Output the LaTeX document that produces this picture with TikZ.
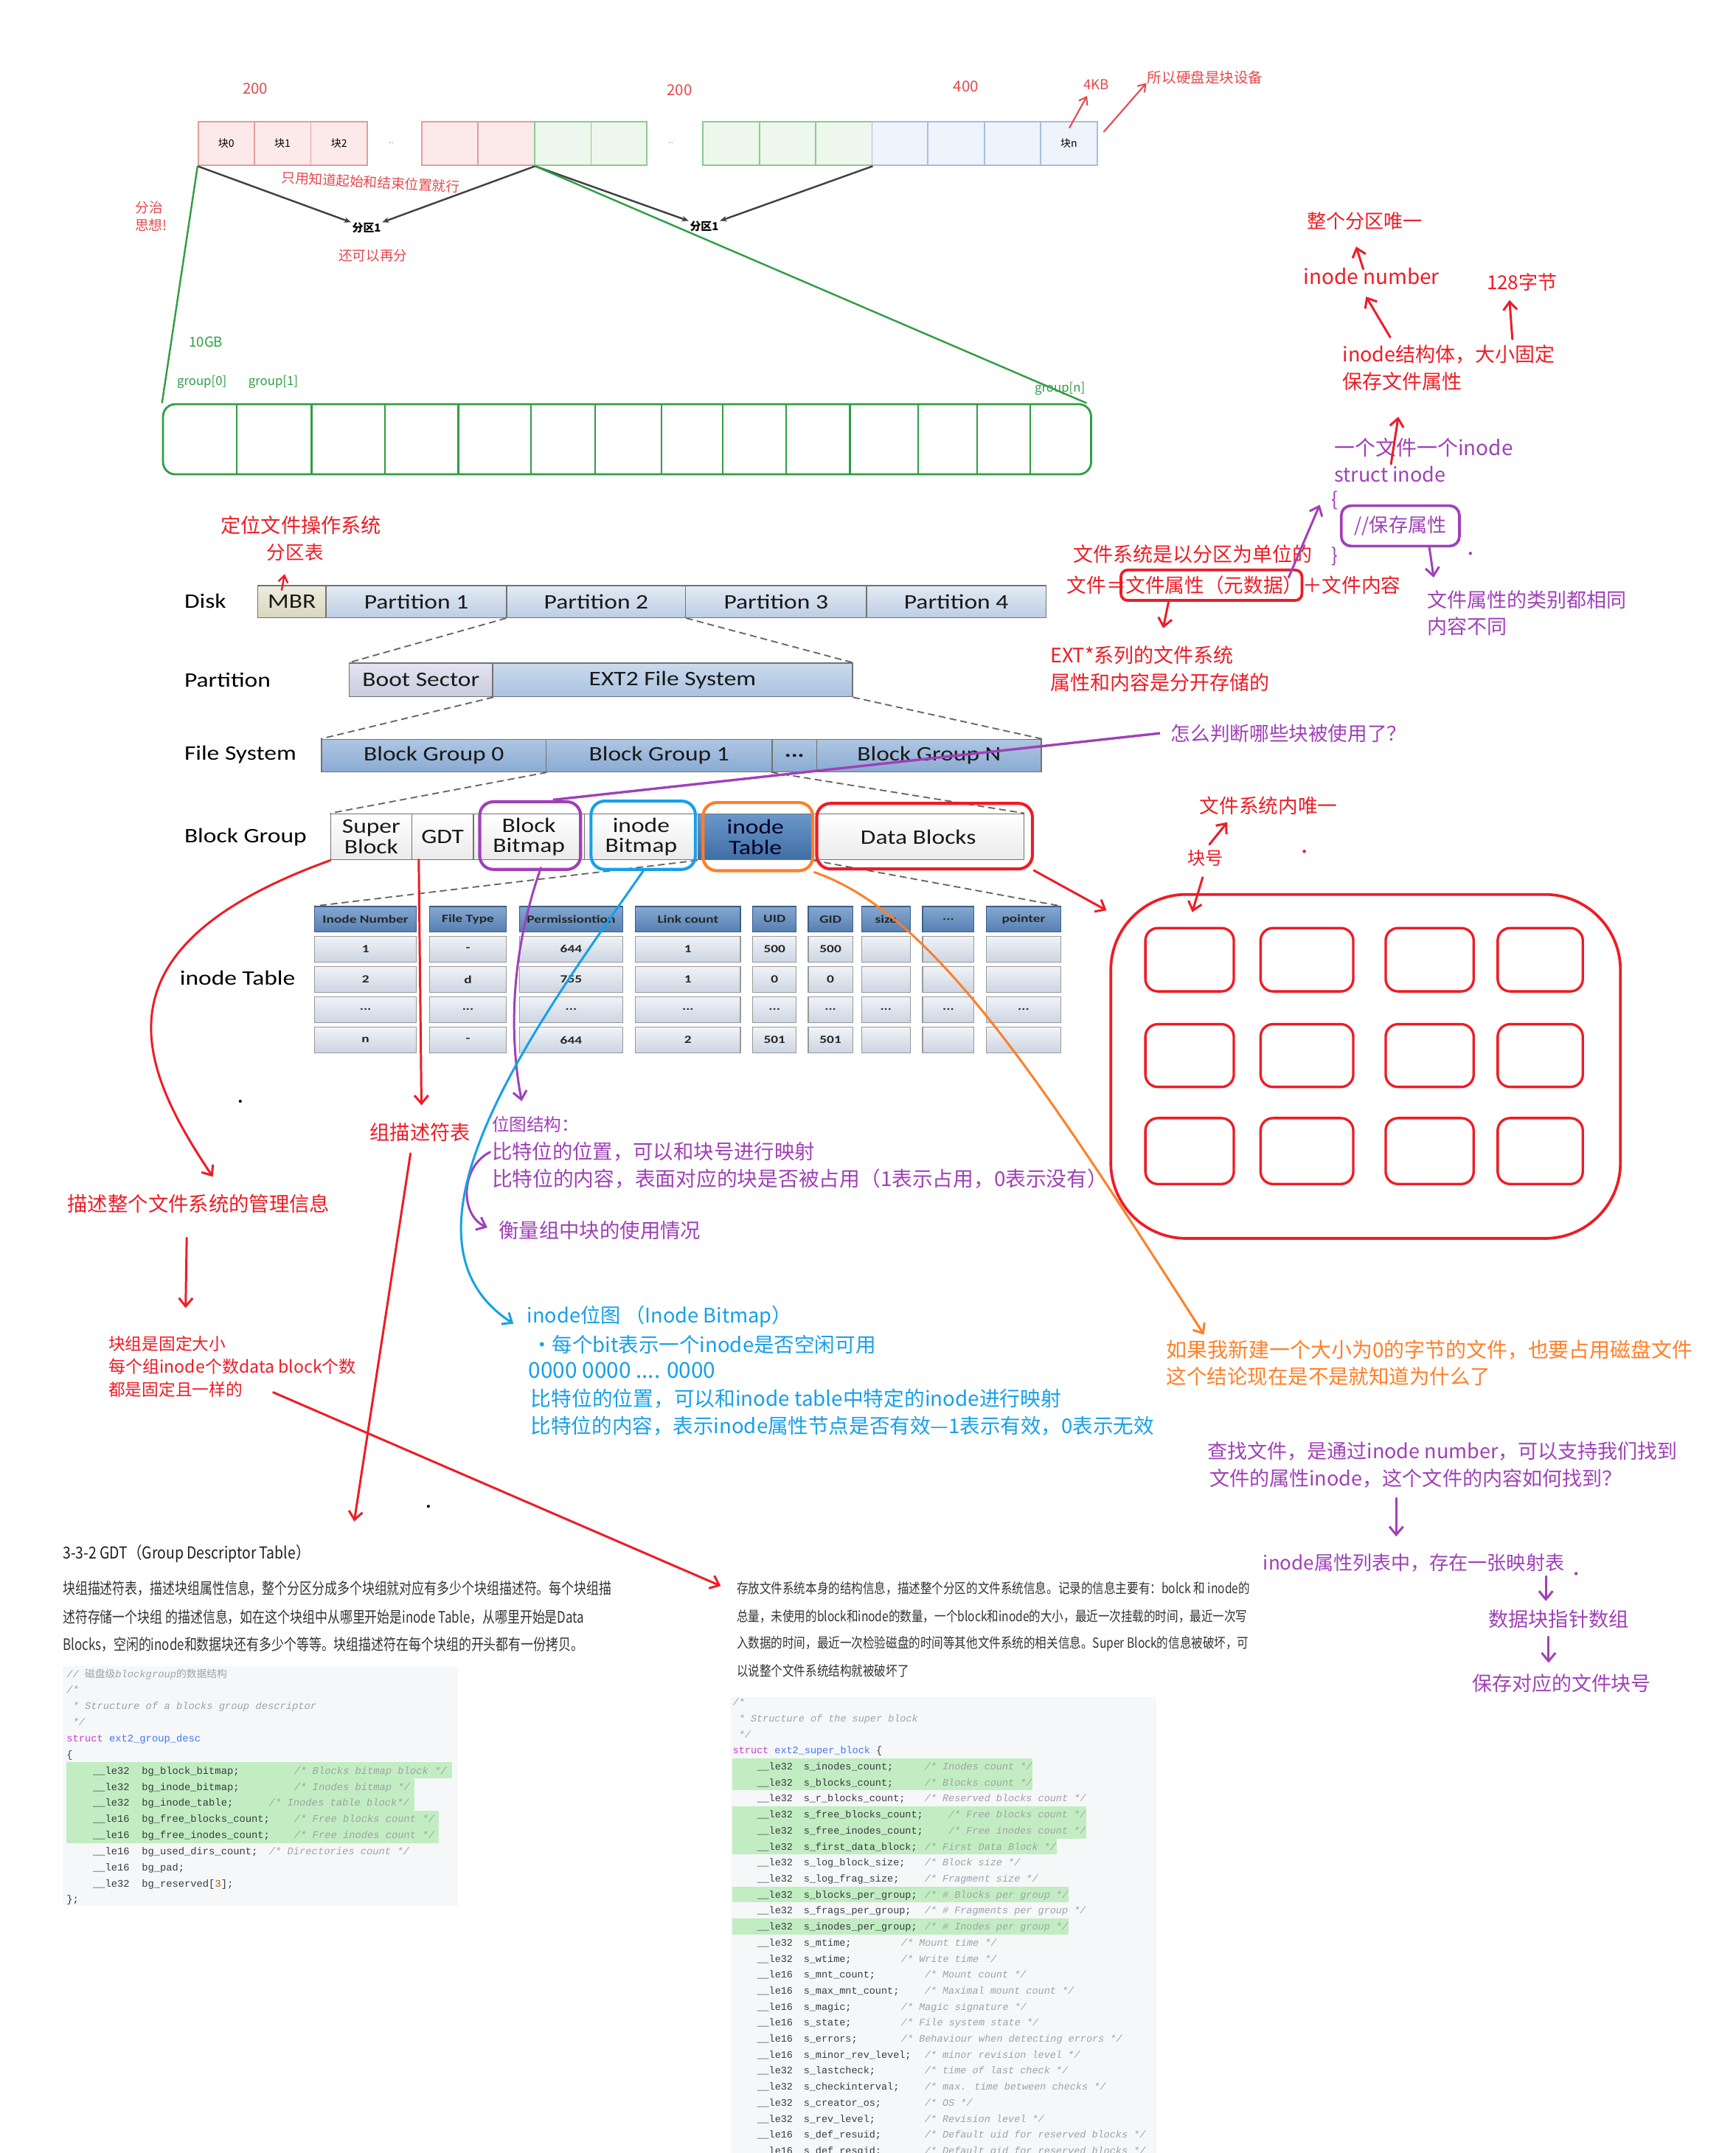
\documentclass[tikz,border=0pt]{standalone}
\usepackage{fontspec}
\usepackage{graphicx}
\usetikzlibrary{arrows.meta}
\setmainfont{Carlito}
\newfontfamily\cjk{Noto Sans CJK SC}
\newfontfamily\codef{Liberation Mono}
\newcommand\fsz[1]{\fontsize{#1}{#1}\selectfont}
\newcommand\sx[2]{\scalebox{#1}[1]{#2}}
\newcommand\tdots{...}
\definecolor{hred}{HTML}{EE1C25}
\definecolor{lred}{HTML}{E5484D}
\definecolor{hpur}{HTML}{A040B8}
\definecolor{hblue}{HTML}{16A0E8}
\definecolor{horg}{HTML}{FF7F27}
\definecolor{hgrn}{HTML}{2F9E44}
\definecolor{codebg}{HTML}{F6F7F9}
\definecolor{codehl}{HTML}{C2EDC2}
\definecolor{codetx}{HTML}{383A42}
\definecolor{codecm}{HTML}{A0A1A7}
\definecolor{codekw}{HTML}{C33FC9}
\definecolor{codeid}{HTML}{4078F2}
\definecolor{codenum}{HTML}{986801}
\definecolor{paratx}{HTML}{333333}
\definecolor{rf}{HTML}{FCEAEA}\definecolor{rd}{HTML}{E59C9C}
\definecolor{gf}{HTML}{EDF7EC}\definecolor{gd}{HTML}{8CCB8C}
\definecolor{bf}{HTML}{EEF3FC}\definecolor{bd}{HTML}{A4BEE4}
\definecolor{mbrt}{HTML}{EEEDE0}\definecolor{mbrb}{HTML}{D9D7BE}
\definecolor{ptt}{HTML}{E3EBF5}\definecolor{ptb}{HTML}{BCCDE3}
\definecolor{bst}{HTML}{E4E4F0}\definecolor{bsb}{HTML}{C9CADF}
\definecolor{ext}{HTML}{CBDBEE}\definecolor{exb}{HTML}{A9C1DF}
\definecolor{bgt}{HTML}{AEC6E2}\definecolor{bgb}{HTML}{8AABD2}
\definecolor{wt}{HTML}{FFFFFF}\definecolor{wb}{HTML}{EBEBEB}
\definecolor{itt}{HTML}{6B97C9}\definecolor{itb}{HTML}{3F6EA6}
\definecolor{hdt}{HTML}{86A8D0}\definecolor{hdb}{HTML}{5580B4}\definecolor{hdd}{HTML}{3D5E86}
\definecolor{cet}{HTML}{F0F3F8}\definecolor{ceb}{HTML}{CCD5E2}
\tikzset{
  txt/.style={inner sep=0pt, outer sep=0pt},
  hand/.style={txt, font=\cjk\fsz{#1}},
  arr/.style={-{Straight Barb[length=6pt,width=10pt]}, line width=1.6pt, line cap=round, line join=round},
  tharr/.style={-{Straight Barb[length=5pt,width=7pt]}, line width=1.1pt, line cap=round},
  blkarr/.style={draw=black!75, line width=1.3pt, -{Stealth[length=5pt,width=4pt]}, shorten >=1pt},
  pbox/.style={draw=black!55, line width=0.8pt, inner sep=0pt, anchor=north west, font=\fsz{15}, text=black!90, align=center},
  dline/.style={draw=black!60, dash pattern=on 5pt off 3pt, line width=1pt},
  hlbox/.style={draw=#1, line width=2.2pt, rounded corners=10pt, inner sep=0pt, anchor=north west},
  thead/.style={draw=hdd, top color=hdt, bottom color=hdb, line width=0.6pt, minimum height=18.4pt, inner sep=0pt, font=\bfseries\fsz{8}, text=black!85},
  tcell/.style={draw=black!40, top color=cet, bottom color=ceb, line width=0.6pt, minimum height=18.6pt, inner sep=0pt, font=\bfseries\fsz{8}, text=black!85},
  code/.style={txt, font=\codef\fsz{7.4}, text=codetx},
  cmt/.style={txt, font=\codef\itshape\fsz{7.4}, text=codecm},
  scode/.style={txt, font=\codef\fsz{7.25}, text=codetx},
  scmt/.style={txt, font=\codef\itshape\fsz{7.25}, text=codecm},
  para/.style={txt, font=\cjk\fsz{11.5}, text=paratx, anchor=west},
  spara/.style={txt, font=\cjk\fsz{10.2}, text=paratx, anchor=west},
}
\newcommand\gdtline[5]{%
  \pgfmathsetmacro\yy{1221.6+(#1-1)*11.73}%
  \node[code, anchor=base west] (gt#1) at (67.7,\yy) {\_\_le#2};%
  \node[code, anchor=base west] (gn#1) at (103.3,\yy) {\detokenize{#3}};%
  \node[cmt, anchor=base west] (gc#1) at (#4,\yy) {#5};%
}
\newcommand\sbline[5]{%
  \pgfmathsetmacro\yy{1242.3+(#1-1)*11.66}%
  \node[scode, anchor=base west] (st#1) at (551.4,\yy) {\_\_le#2};%
  \node[scode, anchor=base west] (sn#1) at (585.4,\yy) {\detokenize{#3}};%
  \node[scmt, anchor=base west] (sc#1) at (#4,\yy) {#5};%
}
\begin{document}
\begin{tikzpicture}[x=1pt,y=-1pt]
\useasboundingbox (0,0) rectangle (1264,1568);
\clip (0,0) rectangle (1264,1568);
\fill[white] (0,0) rectangle (1264,1568);

% ================= top block strip
\foreach \xa/\xb/\cf/\cd [count=\i] in {143.9/184.6/rf/rd,184.6/225.9/rf/rd,225.9/267/rf/rd,306.8/347.5/rf/rd,347.5/388.8/rf/rd,388.8/430/gf/gd,430/470.6/gf/gd,511.3/552.7/gf/gd,552.7/593.4/gf/gd,593.4/634.7/gf/gd,634.7/675.4/bf/bd,675.4/716.7/bf/bd,716.7/757.4/bf/bd,757.4/798.7/bf/bd}
  {\node[draw=\cd, fill=\cf, line width=1pt, inner sep=0pt, anchor=north west, minimum width={\xb-\xa}, minimum height=32pt] (blk\i) at (\xa,88) {};}
\node[hand=7.5] (bk0) at (blk1.center) {块0};
\node[hand=7.5] (bk1) at (blk2.center) {块1};
\node[hand=7.5] (bk2) at (blk3.center) {块2};
\node[hand=7.5] (bkn) at (blk14.center) {块n};
\node[hand=6, black!45] (dd1) at (285,104) {..};
\node[hand=6, black!45] (dd2) at (488.8,104) {..};
\node[hand=11, lred] (n200a) at (186,64.5) {200};
\node[hand=11, lred] (n200b) at (495,65.7) {200};
\node[hand=11, lred] (n400) at (703.7,63) {400};
\node[hand=10, lred] (kb4) at (798.7,61.8) {4KB};
\node[hand=10.5, lred] (ypsb) at (877.8,56.4) {所以硬盘是块设备};
\node[hand=10, lred, rotate=-3] (zyzd) at (270,132.5) {只用知道起始和结束位置就行};
\node[hand=10, lred] (hkyz) at (271.7,186) {还可以再分};
\node[hand=10, lred] (fz1) at (108.8,151.3) {分治};
\node[hand=10, lred] (fz2) at (110,163.8) {思想!};
\node[txt, font=\cjk\bfseries\fsz{8}] (fq1) at (267,166) {分区1};
\node[txt, font=\cjk\bfseries\fsz{8}] (fq2) at (513,165) {分区1};
\coordinate (a4s) at (779,93); \coordinate (a4e) at (791.8,69.8);
\coordinate (ays) at (804,96); \coordinate (aye) at (835,60.5);
\draw[tharr, lred] (a4s) -- (a4e);
\draw[tharr, lred] (ays) -- (aye);
\draw[blkarr] (blk1.south west) -- (fq1.north west);
\draw[blkarr] (blk5.south east) -- (fq1.north east);
\draw[blkarr] (blk5.south east) -- (fq2.north west);
\draw[blkarr] (blk10.south east) -- (fq2.north east);

% ================= group bar
\node[draw=hgrn, line width=1.5pt, rounded corners=9pt, inner sep=0pt, anchor=north west, minimum width=676pt, minimum height=51.1pt] (gbar) at (118,293.6) {};
\foreach \x in {172.3,226.9,280.6,333.9,386.7,433.4,482,526.6,572.8,619.1,668.7,711.7,750.5}
  {\draw[hgrn, line width=1.2pt] (\x,293.6) -- (\x,344.7);}
\draw[hgrn, line width=1.3pt] (blk1.south west) -- (gbar.north west);
\draw[hgrn, line width=1.3pt] (blk5.south east) -- ([xshift=-4pt]gbar.north east);
\node[hand=10, hgrn] (g10) at (150,249) {10GB};
\node[hand=9, hgrn] (g0) at (147,278) {group[0]};
\node[hand=9, hgrn] (g1) at (199,278) {group[1]};
\node[hand=9, hgrn] (gn) at (772,283) {group[n]};

% ================= disk diagram
\node[txt, font=\fsz{15}, anchor=west] (lDisk) at (134.3,437.8) {\sx{1.2}{Disk}};
\node[txt, font=\fsz{15}, anchor=west] (lPart) at (134.3,495) {\sx{1.2}{Partition}};
\node[txt, font=\fsz{15}, anchor=west] (lFS) at (134.3,549.7) {\sx{1.2}{File System}};
\node[txt, font=\fsz{15}, anchor=west] (lBG) at (134.3,609.7) {\sx{1.2}{Block Group}};
\node[txt, font=\fsz{15}, anchor=west] (lIT) at (131,712) {\sx{1.2}{inode Table}};

\node[pbox, top color=mbrt, bottom color=mbrb, minimum width=49.6pt, minimum height=23.2pt] (mbr) at (187.4,426.2) {\sx{1.2}{MBR}};
\node[pbox, top color=ptt, bottom color=ptb, minimum width=131.7pt, minimum height=23.2pt] (p1) at (237,426.2) {\sx{1.2}{Partition 1}};
\node[pbox, top color=ptt, bottom color=ptb, minimum width=130.3pt, minimum height=23.2pt] (p2) at (368.7,426.2) {\sx{1.2}{Partition 2}};
\node[pbox, top color=ptt, bottom color=ptb, minimum width=131.7pt, minimum height=23.2pt] (p3) at (499,426.2) {\sx{1.2}{Partition 3}};
\node[pbox, top color=ptt, bottom color=ptb, minimum width=130.8pt, minimum height=23.2pt] (p4) at (630.7,426.2) {\sx{1.2}{Partition 4}};

\node[pbox, top color=bst, bottom color=bsb, minimum width=104.5pt, minimum height=24.4pt] (boot) at (254,482.6) {\sx{1.2}{Boot Sector}};
\node[pbox, top color=ext, bottom color=exb, minimum width=262pt, minimum height=24.4pt] (ext2) at (358.5,482.6) {\sx{1.2}{EXT2 File System}};

\node[pbox, top color=bgt, bottom color=bgb, minimum width=163.8pt, minimum height=23.6pt] (bg0) at (233.7,538.1) {\sx{1.2}{Block Group 0}};
\node[pbox, top color=bgt, bottom color=bgb, minimum width=164.4pt, minimum height=23.6pt] (bg1) at (397.5,538.1) {\sx{1.2}{Block Group 1}};
\node[pbox, top color=bgt, bottom color=bgb, minimum width=32.7pt, minimum height=23.6pt] (fdots) at (561.9,538.1) {\sx{1.2}{\textbf{...}}};
\node[pbox, top color=bgt, bottom color=bgb, minimum width=163.5pt, minimum height=23.6pt] (bgn) at (594.6,538.1) {\sx{1.2}{Block Group N}};

\node[pbox, top color=wt, bottom color=wb, minimum width=59pt, minimum height=33.5pt] (sb) at (240.5,592.3) {\sx{1.2}{Super}\\\sx{1.2}{Block}};
\node[pbox, top color=wt, bottom color=wb, minimum width=45pt, minimum height=33.5pt] (gdt) at (299.5,592.3) {\sx{1.2}{GDT}};
\node[pbox, top color=wt, bottom color=wb, minimum width=80.7pt, minimum height=33.5pt] (bb) at (344.5,592.3) {\sx{1.2}{Block}\\\sx{1.2}{Bitmap}};
\node[pbox, top color=wt, bottom color=wb, minimum width=82.8pt, minimum height=33.5pt] (ib) at (425.2,592.3) {\sx{1.2}{inode}\\\sx{1.2}{Bitmap}};
\node[pbox, top color=itt, bottom color=itb, minimum width=83.6pt, minimum height=33.5pt, text=black!85!blue] (it) at (508,592.3) {\sx{1.2}{inode}\\\sx{1.2}{Table}};
\node[pbox, top color=wt, bottom color=wb, minimum width=153.8pt, minimum height=33.5pt] (db) at (591.6,592.3) {\sx{1.2}{Data Blocks}};

% inode table
\foreach \xa/\xb/\hd/\ra/\rb/\rc/\rd [count=\i] in {
229.3/303.2/Inode Number/1/2/\tdots/n,
312.9/368.8/File Type/-/d/\tdots/-,
378.2/453.8/Permissiontion/644/755/\tdots/644,
462.9/539.3/Link count/1/1/\tdots/2,
548.3/580/UID/500/0/\tdots/501,
588.7/621.1/GID/500/0/\tdots/501,
627.6/663/size/{}/{}/\tdots/{},
672/709.5/\tdots/{}/{}/\tdots/{},
718.5/772.6/pointer/{}/{}/\tdots/{}}
{
 \node[thead, minimum width={\xb-\xa}] (th\i) at ({(\xa+\xb)/2},669.4) {\sx{1.3}{\hd}};
 \node[tcell, minimum width={\xb-\xa}] (ra\i) at ({(\xa+\xb)/2},691.2) {\sx{1.3}{\ra}};
 \node[tcell, minimum width={\xb-\xa}] (rb\i) at ({(\xa+\xb)/2},713.3) {\sx{1.3}{\rb}};
 \node[tcell, minimum width={\xb-\xa}] (rc\i) at ({(\xa+\xb)/2},735.3) {\sx{1.3}{\rc}};
 \node[tcell, minimum width={\xb-\xa}] (rd\i) at ({(\xa+\xb)/2},757.4) {\sx{1.3}{\rd}};
}

% dashed expansion lines
\draw[dline] (p2.south west) -- (boot.north west);
\draw[dline] (p2.south east) -- (ext2.north east);
\draw[dline] (boot.south east) -- (bg0.north west);
\draw[dline] (ext2.south east) -- (bgn.north east);
\draw[dline] (bg0.south east) -- (sb.north west);
\draw[dline] (fdots.south west) -- (db.north east);
\draw[dline] (it.south west) -- (th1.north west);
\draw[dline] (it.south east) -- (th9.north east);

% highlight boxes
\node[hlbox=hpur, minimum width=73.5pt, minimum height=49.3pt] (hlp) at (348.3,582.8) {};
\node[hlbox=hblue, minimum width=76pt, minimum height=49.8pt] (hlb) at (429.4,582.3) {};
\node[hlbox=horg, minimum width=79.9pt, minimum height=49.6pt] (hlo) at (511,583.4) {};
\node[hlbox=hred, minimum width=157.1pt, minimum height=47.7pt] (hlr) at (593.8,584) {};

% MBR annotation
\node[hand=14.6, hred] (dwwj) at (219.3,382.3) {定位文件操作系统};
\node[hand=13.7, hred] (fqb) at (215,402) {分区表};
\coordinate (mbs) at (205.2,429.7); \coordinate (mbe) at (207.3,418);
\draw[tharr, hred, line width=1.3pt] (mbs) -- (mbe);

% purple question line
\node[hand=14.3, hpur, anchor=west] (q1) at (853,534) {怎么判断哪些块被使用了？};
\coordinate (c1s) at (402.7,582.5);
\draw[hpur, line width=1.8pt] (c1s) -- ([xshift=-8pt]q1.west);

% ================= right top annotations
\node[hand=14, hred] (zgwy) at (994,161) {整个分区唯一};
\node[hand=15, hred] (inum) at (999,201.3) {inode number};
\node[hand=14, hred] (b128) at (1108.6,205.7) {128字节};
\node[hand=14.5, hred, anchor=west] (ijg) at (978,258) {inode结构体，大小固定};
\node[hand=14.5, hred, anchor=west] (bcsx) at (978,277.7) {保存文件属性};
\node[hand=15, hpur, anchor=west] (yge) at (972,325.7) {一个文件一个inode};
\node[hand=14.5, hpur, anchor=west] (sti) at (972,345.4) {struct inode};
\node[hand=14, hpur, anchor=west] (lbr) at (970,364.3) {\{};
\node[hand=14, hpur, anchor=west] (rbr) at (970,405.3) {\}};
\node[hand=14, hpur, draw=hpur, line width=2pt, rounded corners=7pt, minimum width=86pt, minimum height=29.4pt] (bcs) at (1020,383) {//保存属性};
\node[hand=14.5, hpur, anchor=west] (lbxt) at (1039.7,436.6) {文件属性的类别都相同};
\node[hand=14.5, hpur, anchor=west] (nrbt) at (1039.7,456.3) {内容不同};
\node[hand=14.5, hred, anchor=west] (wjxt) at (781.7,403.3) {文件系统是以分区为单位的};
\node[hand=14.3, hred, anchor=west] (wjeq) at (777.2,426.2) {文件＝文件属性（元数据）＋文件内容};
\node[draw=hred, line width=2pt, rounded corners=5pt, inner sep=0pt, minimum width=131.9pt, minimum height=22.2pt] (mdbox) at (882.4,426.2) {};
\node[hand=14.5, hred, anchor=west] (ext) at (765,477) {EXT*系列的文件系统};
\node[hand=14.5, hred, anchor=west] (sxnr) at (765,497) {属性和内容是分开存储的};

\coordinate (r1s) at (993,196); \coordinate (r1e) at (987.8,179.6);
\coordinate (r2s) at (1012.6,245.6); \coordinate (r2e) at (995,216);
\coordinate (r3s) at (1101.6,247); \coordinate (r3e) at (1099.5,218.5);
\coordinate (r4s) at (1013.2,338); \coordinate (r4e) at (1018.5,303.5);
\coordinate (p5s) at (938.6,420.6); \coordinate (p5e) at (961.3,367.6);
\coordinate (p6e) at (1044.3,420.6);
\coordinate (r7s) at (851.1,438.7); \coordinate (r7e) at (847.2,457.5);
\draw[arr, hred] (r1s) -- (r1e);
\draw[arr, hred] (r2s) -- (r2e);
\draw[arr, hred] (r3s) -- (r3e);
\draw[arr, hred] (r4s) -- (r4e);
\draw[arr, hpur] (p5s) -- (p5e);
\draw[arr, hpur] ([xshift=21pt]bcs.south) -- (p6e);
\draw[arr, hred] (r7s) -- (r7e);

% ================= data blocks area
\node[draw=hred, line width=2pt, rounded corners=55pt, inner sep=0pt, anchor=north west, minimum width=371.2pt, minimum height=250.5pt] (bigr) at (808.1,650.4) {};
\foreach \xa/\xb [count=\i] in {833.4/897.8,917.3/984.8,1008.4/1072.5,1090/1152}
  \foreach \ya/\yb [count=\j] in {675/721.1,745/790.7,813.4/861.4}
    {\node[draw=hred, line width=1.8pt, rounded corners=9pt, inner sep=0pt, anchor=north west, minimum width={\xb-\xa}, minimum height={\yb-\ya}] (dbk\i\j) at (\xa,\ya) {};}
\node[hand=14.3, hred] (wjnwy) at (924,586.8) {文件系统内唯一};
\node[hand=13, hred] (kh) at (878,625.2) {块号};
\coordinate (k1s) at (880.9,615); \coordinate (k1e) at (894,598.8);
\coordinate (k2s) at (876,639); \coordinate (k2e) at (868.4,664.3);
\coordinate (bige) at (806,663);
\draw[arr, hred] (k1s) -- (k1e);
\draw[arr, hred] (k2s) -- (k2e);
\draw[arr, hred] (hlr.south east) -- (bige);

% ================= middle annotations
\node[hand=12.7, hpur, anchor=west] (wtjg) at (358.3,819) {位图结构：};
\node[hand=14.7, hpur, anchor=west] (bt1) at (358.3,838.9) {比特位的位置，可以和块号进行映射};
\node[hand=14.9, hpur, anchor=west] (bt2) at (358.3,858.6) {比特位的内容，表面对应的块是否被占用（1表示占用，0表示没有）};
\node[hand=14.7, hpur, anchor=west] (hlz) at (363.4,896.2) {衡量组中块的使用情况};
\node[hand=14.6, hblue, anchor=west] (ibt) at (384,958.9) {inode位图 （Inode Bitmap）};
\node[hand=14.8, hblue, anchor=west] (ib1) at (387.3,979.4) {・每个bit表示一个inode是否空闲可用};
\node[hand=16, hblue, anchor=west] (ib2) at (385,997.9) {0000 0000 .... 0000};
\node[hand=14.9, hblue, anchor=west] (ib3) at (386.7,1018.8) {比特位的位置，可以和inode table中特定的inode进行映射};
\node[hand=14.8, hblue, anchor=west] (ib4) at (386.7,1038.5) {比特位的内容，表示inode属性节点是否有效—1表示有效，0表示无效};

\coordinate (pcs) at (394,632); \coordinate (pce) at (380,802);
\draw[arr, hpur] (pcs) .. controls (370,700) and (372,760) .. (pce);
\coordinate (pbs) at (357,839); \coordinate (pbe) at (355,894);
\draw[arr, hpur] (pbs) .. controls (335,850) and (335,885) .. (pbe);
\coordinate (bce) at (374,964);
\draw[arr, hblue] (hlb.south) .. controls (395,740) and (275,900) .. (bce);
\coordinate (oce) at (877,972);
\draw[arr, horg] (hlo.south east) .. controls (680,665) and (760,790) .. (oce);

% ================= right middle annotations
\node[hand=15, horg, anchor=west] (or1) at (849.7,983) {如果我新建一个大小为0的字节的文件，也要占用磁盘文件};
\node[hand=14.75, horg, anchor=west] (or2) at (849.7,1002.4) {这个结论现在是不是就知道为什么了};
\node[hand=14.5, hpur, anchor=west] (cz1) at (879.7,1057) {查找文件，是通过inode number，可以支持我们找到};
\node[hand=14.55, hpur, anchor=west] (cz2) at (881,1077) {文件的属性inode，这个文件的内容如何找到？};
\node[hand=14, hpur, anchor=west] (yst) at (920.1,1138) {inode属性列表中，存在一张映射表};
\node[hand=14.6, hpur] (sjk) at (1135.3,1179) {数据块指针数组};
\node[hand=14.5, hpur, anchor=west] (bcdy) at (1072.2,1226) {保存对应的文件块号};
\coordinate (q1s) at (1017,1091); \coordinate (q1e) at (1017,1119);
\coordinate (q2s) at (1126,1148); \coordinate (q2e) at (1126,1166);
\coordinate (q3s) at (1128,1192); \coordinate (q3e) at (1128,1211);
\draw[arr, hpur] (q1s) -- (q1e);
\draw[arr, hpur] (q2s) -- (q2e);
\draw[arr, hpur] (q3s) -- (q3e);

% ================= left annotations
\node[hand=14.7, hred, anchor=west] (ms) at (49.2,876.5) {描述整个文件系统的管理信息};
\node[hand=14.6, hred, anchor=west] (zd) at (269.5,824.6) {组描述符表};
\node[hand=12.2, hred, anchor=west] (kz1) at (79.1,978.5) {块组是固定大小};
\node[hand=12.4, hred, anchor=west] (kz2) at (79.1,995.2) {每个组inode个数data block个数};
\node[hand=12.2, hred, anchor=west] (kz3) at (79.1,1012) {都是固定且一样的};
\coordinate (mse) at (155,857);
\draw[arr, hred] (sb.south west) .. controls (65,690) and (100,775) .. (mse);
\coordinate (gds) at (305,626); \coordinate (gde) at (307,805);
\draw[arr, hred] (gds) -- (gde);
\coordinate (zds) at (299,840); \coordinate (zde) at (258,1108);
\draw[arr, hred] (zds) -- (zde);
\coordinate (mds) at (136,901.5); \coordinate (mde) at (135.2,952.6);
\draw[arr, hred] (mds) -- (mde);
\coordinate (kzs) at (199,1014); \coordinate (kze) at (525,1155);
\draw[arr, hred] (kzs) -- (kze);

% stray dots
\fill[black] (175,802) circle (1.1);
\fill[black] (312,1097) circle (1.1);
\fill[hred] (950,620) circle (1.2);
\fill[hpur] (1071,403) circle (1.2);
\fill[hpur] (1148,1146) circle (1.2);

% ================= GDT section
\node[txt, font=\cjk\fsz{12}, text=black!88, anchor=west] (gdth) at (45.8,1131.3) {\sx{0.87}{3-3-2 GDT（Group Descriptor Table）}};
\node[para] (gp1) at (45.8,1157) {\sx{0.79}{块组描述符表，描述块组属性信息，整个分区分成多个块组就对应有多少个块组描述符。每个块组描}};
\node[para] (gp2) at (45.8,1177.8) {\sx{0.79}{述符存储一个块组 的描述信息，如在这个块组中从哪里开始是inode Table，从哪里开始是Data}};
\node[para] (gp3) at (45.8,1197.9) {\sx{0.79}{Blocks，空闲的inode和数据块还有多少个等等。块组描述符在每个块组的开头都有一份拷贝。}};
\node[fill=codebg, inner sep=0pt, anchor=north west, minimum width=288.4pt, minimum height=175pt] (gcode) at (45.2,1213) {};
\fill[codehl] (48.5,1283.5) rectangle (329.3,1295.3);
\fill[codehl] (48.5,1295.3) rectangle (302,1318.7);
\fill[codehl] (48.5,1318.7) rectangle (319.7,1342.2);
\node[cmt, anchor=base west] (gl1) at (48.5,1221.6) {// {\cjk 磁盘级}blockgroup{\cjk 的数据结构}};
\node[cmt, anchor=base west] (gl2) at (48.5,1233.3) {/*};
\node[cmt, anchor=base west] (gl3) at (48.5,1245.1) {\ * Structure of a blocks group descriptor};
\node[cmt, anchor=base west] (gl4) at (48.5,1256.8) {\ */};
\node[code, anchor=base west] (gl5) at (48.5,1268.5) {\textcolor{codekw}{struct} \textcolor{codeid}{\detokenize{ext2_group_desc}}};
\node[code, anchor=base west] (gl6) at (48.5,1280.3) {\{};
\gdtline{7}{32}{bg_block_bitmap;}{214.3}{/* Blocks bitmap block */}
\gdtline{8}{32}{bg_inode_bitmap;}{214.3}{/* Inodes bitmap */}
\gdtline{9}{32}{bg_inode_table;}{196}{/* Inodes table block*/}
\gdtline{10}{16}{bg_free_blocks_count;}{214.3}{/* Free blocks count */}
\gdtline{11}{16}{bg_free_inodes_count;}{214.3}{/* Free inodes count */}
\gdtline{12}{16}{bg_used_dirs_count;}{196}{/* Directories count */}
\node[code, anchor=base west] (gt13) at (67.7,1362.4) {\_\_le16};
\node[code, anchor=base west] (gn13) at (103.3,1362.4) {\detokenize{bg_pad;}};
\node[code, anchor=base west] (gt14) at (67.7,1374.1) {\_\_le32};
\node[code, anchor=base west] (gn14) at (103.3,1374.1) {\detokenize{bg_reserved[}\textcolor{codenum}{3}];};
\node[code, anchor=base west] (gl15) at (48.5,1385.8) {\};};

% ================= super block section
\node[spara] (sp1) at (536.7,1157) {\sx{0.82}{存放文件系统本身的结构信息，描述整个分区的文件系统信息。记录的信息主要有：bolck 和 inode的}};
\node[spara] (sp2) at (536.7,1177) {\sx{0.82}{总量，未使用的block和inode的数量，一个block和inode的大小，最近一次挂载的时间，最近一次写}};
\node[spara] (sp3) at (536.7,1197) {\sx{0.82}{入数据的时间，最近一次检验磁盘的时间等其他文件系统的相关信息。Super Block的信息被破坏，可}};
\node[spara] (sp4) at (536.7,1217) {\sx{0.82}{以说整个文件系统结构就被破坏了}};
\node[fill=codebg, inner sep=0pt, anchor=north west, minimum width=310pt, minimum height=340pt] (scode) at (532,1236) {};
\fill[codehl] (533.4,1280.6) rectangle (752,1303.8);
\fill[codehl] (533.4,1315.5) rectangle (791.3,1338.9);
\fill[codehl] (533.4,1338.9) rectangle (769.7,1350.5);
\fill[codehl] (533.4,1373.8) rectangle (778.2,1385.5);
\fill[codehl] (533.4,1397.1) rectangle (778.2,1408.8);
\node[scmt, anchor=base west] (sl1) at (533.8,1242.3) {/*};
\node[scmt, anchor=base west] (sl2) at (533.8,1254) {\ * Structure of the super block};
\node[scmt, anchor=base west] (sl3) at (533.8,1265.6) {\ */};
\node[scode, anchor=base west] (sl4) at (533.8,1277.3) {\textcolor{codekw}{struct} \textcolor{codeid}{\detokenize{ext2_super_block}} \{};
\sbline{5}{32}{s_inodes_count;}{673.5}{/* Inodes count */}
\sbline{6}{32}{s_blocks_count;}{673.5}{/* Blocks count */}
\sbline{7}{32}{s_r_blocks_count;}{673.5}{/* Reserved blocks count */}
\sbline{8}{32}{s_free_blocks_count;}{690.8}{/* Free blocks count */}
\sbline{9}{32}{s_free_inodes_count;}{690.8}{/* Free inodes count */}
\sbline{10}{32}{s_first_data_block;}{673.5}{/* First Data Block */}
\sbline{11}{32}{s_log_block_size;}{673.5}{/* Block size */}
\sbline{12}{32}{s_log_frag_size;}{673.5}{/* Fragment size */}
\sbline{13}{32}{s_blocks_per_group;}{673.5}{/* \# Blocks per group */}
\sbline{14}{32}{s_frags_per_group;}{673.5}{/* \# Fragments per group */}
\sbline{15}{32}{s_inodes_per_group;}{673.5}{/* \# Inodes per group */}
\sbline{16}{32}{s_mtime;}{656.4}{/* Mount time */}
\sbline{17}{32}{s_wtime;}{656.4}{/* Write time */}
\sbline{18}{16}{s_mnt_count;}{673.5}{/* Mount count */}
\sbline{19}{16}{s_max_mnt_count;}{673.5}{/* Maximal mount count */}
\sbline{20}{16}{s_magic;}{656.4}{/* Magic signature */}
\sbline{21}{16}{s_state;}{656.4}{/* File system state */}
\sbline{22}{16}{s_errors;}{656.4}{/* Behaviour when detecting errors */}
\sbline{23}{16}{s_minor_rev_level;}{673.5}{/* minor revision level */}
\sbline{24}{32}{s_lastcheck;}{673.5}{/* time of last check */}
\sbline{25}{32}{s_checkinterval;}{673.5}{/* max. time between checks */}
\sbline{26}{32}{s_creator_os;}{673.5}{/* OS */}
\sbline{27}{32}{s_rev_level;}{673.5}{/* Revision level */}
\sbline{28}{16}{s_def_resuid;}{673.5}{/* Default uid for reserved blocks */}
\sbline{29}{16}{s_def_resgid;}{673.5}{/* Default gid for reserved blocks */}
\end{tikzpicture}
\end{document}
